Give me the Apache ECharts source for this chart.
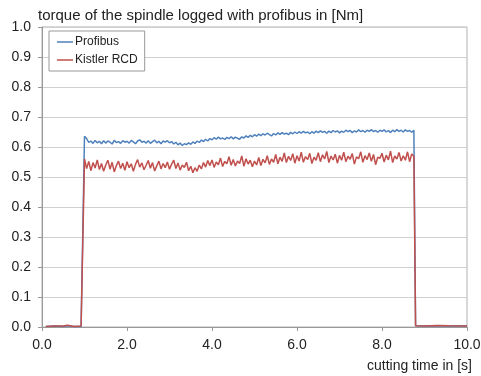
<!DOCTYPE html>
<html>
<head>
<meta charset="utf-8">
<script src="https://cdn.jsdelivr.net/npm/echarts@6/dist/echarts.min.js"></script>
<style>
  html, body { margin: 0; padding: 0; background: #fff; }
  #chart { width: 481px; height: 376px; }
</style>
</head>
<body>
<div id="chart"></div>
<script>
const beforeTime = [0.09, 0.30, 0.50, 0.60, 0.75, 0.92];
const profibusBefore = [0.002, 0.003, 0.002, 0.004, 0.002, 0.002];
const kistlerBefore = [0.002, 0.003, 0.003, 0.006, 0.002, 0.003];

const plateauStart = 1.0;
const plateauStep = 0.05;
const profibusPlateau = [
  0.636,0.628,0.615,0.620,0.612,0.622,0.614,0.619,0.611,0.621,
  0.613,0.620,0.616,0.610,0.622,0.615,0.618,0.612,0.621,0.616,
  0.619,0.613,0.622,0.617,0.611,0.620,0.624,0.616,0.619,0.613,
  0.621,0.612,0.618,0.623,0.614,0.619,0.611,0.620,0.616,0.621,
  0.614,0.618,0.610,0.616,0.607,0.613,0.605,0.611,0.608,0.614,
  0.609,0.617,0.612,0.620,0.615,0.623,0.618,0.626,0.620,0.628,
  0.624,0.631,0.626,0.633,0.627,0.630,0.625,0.632,0.628,0.634,
  0.627,0.633,0.629,0.626,0.634,0.630,0.637,0.632,0.639,0.634,
  0.641,0.636,0.643,0.638,0.644,0.640,0.646,0.641,0.637,0.645,
  0.640,0.647,0.642,0.648,0.643,0.646,0.641,0.649,0.644,0.650,
  0.645,0.651,0.646,0.652,0.647,0.650,0.644,0.651,0.646,0.653,
  0.648,0.654,0.649,0.652,0.646,0.653,0.648,0.655,0.650,0.654,
  0.647,0.653,0.649,0.656,0.651,0.655,0.648,0.654,0.650,0.657,
  0.651,0.655,0.649,0.656,0.652,0.658,0.651,0.655,0.649,0.656,
  0.652,0.657,0.650,0.655,0.648,0.656,0.651,0.658,0.652,0.656,
  0.650,0.657,0.652,0.655,0.649,0.656
];
const kistlerPlateau = [
  0.560,0.528,0.552,0.521,0.548,0.530,0.557,0.525,0.545,0.519,
  0.540,0.556,0.526,0.549,0.517,0.538,0.553,0.528,0.546,0.522,
  0.551,0.531,0.544,0.519,0.542,0.558,0.533,0.547,0.524,0.539,
  0.555,0.529,0.548,0.520,0.537,0.553,0.527,0.545,0.531,0.550,
  0.526,0.543,0.556,0.528,0.547,0.523,0.540,0.532,0.549,0.521,
  0.536,0.514,0.531,0.519,0.540,0.527,0.548,0.533,0.555,0.538,
  0.557,0.532,0.550,0.541,0.563,0.535,0.552,0.544,0.568,0.539,
  0.558,0.537,0.553,0.545,0.570,0.536,0.561,0.543,0.556,0.534,
  0.553,0.540,0.565,0.538,0.559,0.547,0.571,0.542,0.560,0.549,
  0.575,0.544,0.566,0.552,0.580,0.548,0.569,0.555,0.578,0.546,
  0.571,0.553,0.583,0.549,0.568,0.558,0.579,0.545,0.566,0.556,
  0.581,0.551,0.574,0.560,0.585,0.548,0.570,0.557,0.576,0.546,
  0.572,0.556,0.583,0.551,0.569,0.559,0.578,0.543,0.567,0.561,
  0.584,0.549,0.571,0.558,0.580,0.552,0.575,0.541,0.566,0.562,
  0.579,0.550,0.573,0.557,0.586,0.548,0.570,0.560,0.582,0.553,
  0.571,0.556,0.584,0.551,0.577,0.568
];

const afterTime = [8.79, 9.00, 9.30, 9.60, 10.00];
const profibusAfter = [0.004, 0.003, 0.004, 0.003, 0.004];
const kistlerAfter = [0.004, 0.003, 0.005, 0.004, 0.003];

const xTicks = [0, 2, 4, 6, 8, 10];

function buildSeries(before, plateau, after) {
  const pts = [];
  before.forEach((v, i) => pts.push([beforeTime[i], v]));
  plateau.forEach((v, i) => pts.push([+(plateauStart + i * plateauStep).toFixed(2), v]));
  after.forEach((v, i) => pts.push([afterTime[i], v]));
  return pts;
}

const font = 'Arial, "Liberation Sans", sans-serif';
var myChart = echarts.init(document.getElementById('chart'));
myChart.setOption({
  animation: false,
  title: {
    text: 'torque of the spindle logged with profibus in [Nm]',
    left: 33, top: 3,
    textStyle: { fontSize: 15, fontWeight: 'normal', color: '#222', fontFamily: font }
  },
  legend: {
    orient: 'vertical',
    left: 49, top: 31,
    padding: [5, 7, 5, 8],
    itemGap: 6,
    icon: 'rect',
    itemWidth: 16, itemHeight: 1.5,
    borderColor: '#999', borderWidth: 1, backgroundColor: '#fff',
    textStyle: { fontSize: 12, color: '#222', fontFamily: font, padding: [0, 0, 0, -3] },
    data: ['Profibus', 'Kistler RCD']
  },
  grid: {
    left: 42, right: 14, top: 27, bottom: 49,
    outerBoundsMode: 'none', containLabel: false,
    show: true, borderColor: '#b0b0b0', borderWidth: 1
  },
  xAxis: {
    type: 'value', min: 0, max: 10, interval: 2,
    name: 'cutting time in [s]',
    nameLocation: 'end', nameGap: 5,
    nameTextStyle: { fontSize: 14, color: '#222', fontFamily: font, align: 'right', verticalAlign: 'top', padding: [32, 0, 0, 0] },
    axisLine: { lineStyle: { color: '#999' } },
    axisTick: { show: true, length: 4, lineStyle: { color: '#999' } },
    axisLabel: { fontSize: 14, color: '#222', fontFamily: font, margin: 11,
      formatter: v => xTicks.includes(v) ? v.toFixed(1) : '' },
    splitLine: { show: false }
  },
  yAxis: {
    type: 'value', min: 0, max: 1, interval: 0.1,
    axisLine: { show: true, lineStyle: { color: '#999' } },
    axisTick: { show: true, length: 4, lineStyle: { color: '#999' } },
    axisLabel: { fontSize: 14, color: '#222', fontFamily: font, margin: 11,
      formatter: v => v.toFixed(1) },
    splitLine: { show: true, lineStyle: { color: '#d0d0d0' } }
  },
  series: [
    {
      name: 'Profibus', type: 'line', symbol: 'none',
      lineStyle: { color: '#4F81BD', width: 1.5 }, itemStyle: { color: '#4F81BD' },
      data: buildSeries(profibusBefore, profibusPlateau, profibusAfter)
    },
    {
      name: 'Kistler RCD', type: 'line', symbol: 'none',
      lineStyle: { color: '#C0504D', width: 1.5 }, itemStyle: { color: '#C0504D' },
      data: buildSeries(kistlerBefore, kistlerPlateau, kistlerAfter)
    }
  ]
});
</script>
</body>
</html>
